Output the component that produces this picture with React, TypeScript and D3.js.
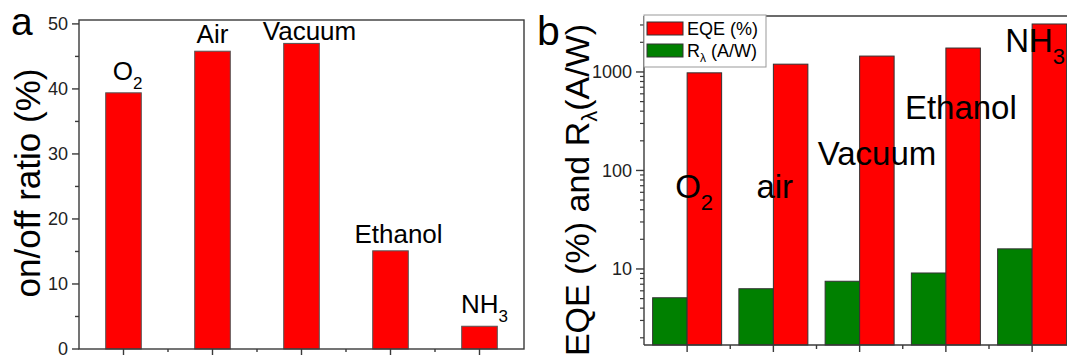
import React from "react";
import * as d3 from "d3";

// ---------- data ----------
const categoriesA = [
  { main: "O", sub: "2" },
  { main: "Air", sub: "" },
  { main: "Vacuum", sub: "" },
  { main: "Ethanol", sub: "" },
  { main: "NH", sub: "3" },
];
const onOffRatio = [39.4, 45.8, 47.0, 15.1, 3.5];
const yTicksA = [0, 10, 20, 30, 40, 50];

const categoriesB = [
  { main: "O", sub: "2" },
  { main: "air", sub: "" },
  { main: "Vacuum", sub: "" },
  { main: "Ethanol", sub: "" },
  { main: "NH", sub: "3" },
];
const eqeValues = [980, 1200, 1450, 1750, 3070];
const responsivityValues = [5.1, 6.3, 7.5, 9.1, 16.0];
const yTicksB = [10, 100, 1000];
const legendItems = [
  { main: "EQE (%)", sub: "", rest: "", color: "#ff0000" },
  { main: "R", sub: "λ", rest: " (A/W)", color: "#008000" },
];

// label layout (annotation placement)
const labelLayoutA = [
  { dx: 4, dy: -13 },
  { dx: 0, dy: -8 },
  { dx: 8, dy: -3 },
  { dx: 8, dy: -8 },
  { dx: 5, dy: -13 },
];
// right panel: x offset from group centre (px), baseline in data units
const labelLayoutB = [
  { dx: -12, v: 52.6 },
  { dx: -17, v: 52.6 },
  { dx: -42, v: 114 },
  { dx: -41, v: 333 },
  { dx: -27, v: 1596 },
];

const FONT = "Arial, 'Liberation Sans', Helvetica, sans-serif";
const AXIS = "#3a3a3a";

export default function App() {
  // ---- panel a ----
  const xA = d3.scaleLinear().domain([0.5, 5.5]).range([79, 524]);
  const yA = d3.scaleLinear().domain([0, 50.6]).range([349, 20]);
  const stepA = xA(2) - xA(1);
  const bwA = stepA * 0.4;
  const minorA = d3.range(5, 50, 10);

  // ---- panel b ----
  const xB = d3.scaleLinear().domain([0.5, 5.5]).range([644, 1075.25]);
  const yB = d3.scaleLog().domain([1.69, 3700]).range([345, 16]);
  const stepB = xB(2) - xB(1);
  const bwB = stepB * 0.4;
  const minorB: number[] = [];
  [1, 10, 100, 1000].forEach((dec) => {
    for (let m = 2; m <= 9; m++) {
      const v = m * dec;
      if (v >= 1.69 && v <= 3700) minorB.push(v);
    }
  });

  return (
    <svg width={1067} height={357} style={{ position: "absolute", left: 0, top: 0, background: "#fff" }} fontFamily={FONT}>
      <rect x={0} y={0} width={1067} height={357} fill="#fff" />

      {/* ================= Panel a ================= */}
      <text x={11} y={35} fontSize={39} fill="#000">a</text>
      {onOffRatio.map((v, i) => (
        <rect key={"ba" + i} x={xA(i + 1) - bwA / 2} y={yA(v)} width={bwA} height={yA(0) - yA(v)}
          fill="#ff0000" stroke="#555" strokeWidth={1} />
      ))}
      {/* frame */}
      <rect x={xA.range()[0]} y={yA.range()[1]} width={xA.range()[1] - xA.range()[0]} height={yA.range()[0] - yA.range()[1]}
        fill="none" stroke={AXIS} strokeWidth={1.4} />
      {/* y ticks */}
      {yTicksA.map((t) => (
        <g key={"yta" + t}>
          <line x1={79 - 7} x2={79} y1={yA(t)} y2={yA(t)} stroke={AXIS} strokeWidth={1.4} />
          <text x={68} y={yA(t)} dy="0.35em" fontSize={18} textAnchor="end" fill="#222">{t}</text>
        </g>
      ))}
      {minorA.map((t) => (
        <line key={"yma" + t} x1={79 - 4} x2={79} y1={yA(t)} y2={yA(t)} stroke={AXIS} strokeWidth={1.4} />
      ))}
      {/* x ticks */}
      {d3.range(1, 6).map((c) => (
        <line key={"xta" + c} x1={xA(c)} x2={xA(c)} y1={349} y2={355} stroke={AXIS} strokeWidth={1.4} />
      ))}
      {d3.range(1.5, 5.5, 1).map((c) => (
        <line key={"xma" + c} x1={xA(c)} x2={xA(c)} y1={349} y2={352} stroke={AXIS} strokeWidth={1.4} />
      ))}
      {/* bar labels */}
      {categoriesA.map((c, i) => (
        <text key={"la" + i} x={xA(i + 1) + labelLayoutA[i].dx} y={yA(onOffRatio[i]) + labelLayoutA[i].dy}
          fontSize={26} textAnchor="middle" fill="#000">
          {c.main}
          {c.sub && <tspan fontSize={17} dy={9}>{c.sub}</tspan>}
        </text>
      ))}
      {/* y title */}
      <text transform={`translate(40,183) rotate(-90)`} fontSize={35}
        textAnchor="middle" fill="#000">on/off ratio (%)</text>

      {/* ================= Panel b ================= */}
      <text x={537} y={45} fontSize={41} fill="#000">b</text>
      {responsivityValues.map((v, i) => (
        <rect key={"bg" + i} x={xB(i + 1) - bwB} y={yB(v)} width={bwB} height={yB.range()[0] - yB(v)}
          fill="#008000" stroke="#333" strokeWidth={1} />
      ))}
      {eqeValues.map((v, i) => (
        <rect key={"br" + i} x={xB(i + 1)} y={yB(v)} width={bwB} height={yB.range()[0] - yB(v)}
          fill="#ff0000" stroke="#333" strokeWidth={1} />
      ))}
      {/* axes */}
      <line x1={644} x2={644} y1={yB.range()[1]} y2={yB.range()[0]} stroke={AXIS} strokeWidth={1.4} />
      <line x1={644} x2={1067} y1={yB.range()[0]} y2={yB.range()[0]} stroke={AXIS} strokeWidth={1.4} />
      <line x1={644} x2={1067} y1={yB.range()[1]} y2={yB.range()[1]} stroke={AXIS} strokeWidth={1.4} />
      {yTicksB.map((t) => (
        <g key={"ytb" + t}>
          <line x1={644 - 8} x2={644} y1={yB(t)} y2={yB(t)} stroke={AXIS} strokeWidth={1.4} />
          <text x={632} y={yB(t)} dy="0.35em" fontSize={18} textAnchor="end" fill="#222">{t}</text>
        </g>
      ))}
      {minorB.map((t) => (
        <line key={"ymb" + t} x1={644 - 4} x2={644} y1={yB(t)} y2={yB(t)} stroke={AXIS} strokeWidth={1.2} />
      ))}
      {d3.range(1, 6).map((c) => (
        <line key={"xtb" + c} x1={xB(c)} x2={xB(c)} y1={345} y2={352} stroke={AXIS} strokeWidth={1.4} />
      ))}
      {d3.range(1.5, 5.5, 1).map((c) => (
        <line key={"xmb" + c} x1={xB(c)} x2={xB(c)} y1={345} y2={349} stroke={AXIS} strokeWidth={1.4} />
      ))}
      {/* legend */}
      <rect x={644} y={15} width={122} height={52} fill="#fff" stroke="#999" strokeWidth={1} />
      {legendItems.map((it, i) => (
        <g key={"lg" + i}>
          <rect x={647} y={22 + i * 22} width={36} height={13} fill={it.color} stroke="#333" strokeWidth={1} />
          <text x={687} y={35 + i * 22} fontSize={18} fill="#000">
            {it.main}
            {it.sub && <tspan fontSize={12} dy={5}>{it.sub}</tspan>}
            {it.rest && <tspan dy={it.sub ? -5 : 0}>{it.rest}</tspan>}
          </text>
        </g>
      ))}
      {/* group labels */}
      {categoriesB.map((c, i) => (
        <text key={"lb" + i} x={xB(i + 1) + labelLayoutB[i].dx} y={yB(labelLayoutB[i].v)} fontSize={33} fill="#000">
          {c.main}
          {c.sub && <tspan fontSize={22} dy={12}>{c.sub}</tspan>}
        </text>
      ))}
      {/* y title */}
      <text transform={`translate(589,190) rotate(-90)`} fontSize={34} textAnchor="middle" fill="#000">
        EQE (%) and R<tspan fontSize={22} dy={8}>λ</tspan><tspan dy={-8}>(A/W)</tspan>
      </text>
    </svg>
  );
}
